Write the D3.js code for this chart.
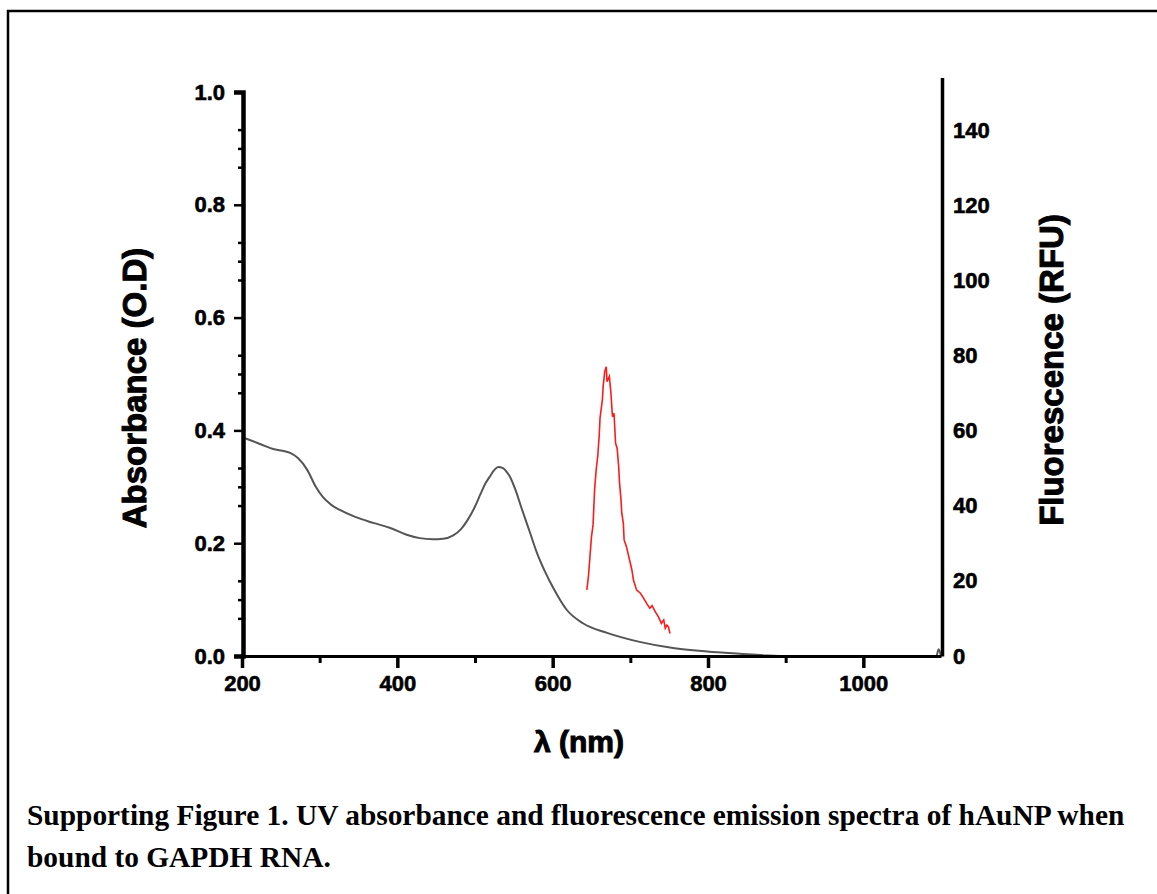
<!DOCTYPE html>
<html><head><meta charset="utf-8">
<script src="https://cdn.jsdelivr.net/npm/d3@7"></script>
<style>body{margin:0;background:#fff}svg{display:block}</style>
</head><body>
<svg id="c" width="1157" height="894"></svg>
<script>
// ---- data ----
const absWavelength = [200,210,225,240,255,262,272,284,295,304,315,326,345,369,391,412,429,445,459,472,482,490,500,507,513,519,525,530,536,541,545,552,560,570,580,590,601,618,639,670,712,755,799,841,876,900,950,1000,1050,1094,1097,1100];
const absValue = [0.388,0.383,0.375,0.367,0.363,0.360,0.351,0.330,0.300,0.282,0.268,0.259,0.247,0.236,0.227,0.215,0.209,0.207,0.208,0.214,0.225,0.240,0.265,0.287,0.305,0.318,0.330,0.335,0.333,0.326,0.318,0.295,0.262,0.222,0.182,0.150,0.120,0.082,0.058,0.041,0.025,0.014,0.008,0.004,0.001,0,0,0,0,0,0.012,0];
const flWavelength = [644,646,650,652,654,656,658,660,661,664,665,667,669,670,673,675,677,679,681,683,685,686,688,689,691,692,695,697,700,702,704,708,713,717,721,725,728,732,736,740,743,745,747,749,751];
const flValue = [17.6,21.1,31.8,34.9,44.3,49.5,53.1,58.9,63.4,68.2,71.7,75.7,77.0,73.0,74.4,70.0,63.7,64.6,56.6,55.3,50.4,46.4,41.5,38.0,35.3,30.9,29.1,27.3,24.7,22.9,20.2,17.6,16.7,15.4,14.0,12.7,13.4,11.8,10.5,8.7,9.6,7.4,8.2,7.8,6.0];
const xTicks = [200,400,600,800,1000];
const xMinorTicks = [300,500,700,900];
const yLeftTicks = [0,0.2,0.4,0.6,0.8,1.0];
const yLeftMinor = [0.0667,0.1,0.1333,0.2667,0.3,0.3333,0.4667,0.5,0.5333,0.6667,0.7,0.7333,0.8667,0.9,0.9333];
const yRightTicks = [0,20,40,60,80,100,120,140];
const caption = ["Supporting Figure 1. UV absorbance and fluorescence emission spectra of hAuNP when","bound to GAPDH RNA."];

// ---- scales ----
const svg = d3.select('#c');
const x = d3.scaleLinear().domain([200,1100]).range([242,941]);
const yL = d3.scaleLinear().domain([0,1]).range([656,92]);
const yR = d3.scaleLinear().domain([0,154]).range([656,656-154*3.757]);

// border
svg.append('path').attr('d','M8,900 L8,11 L1160,11').attr('fill','none').attr('stroke','#000').attr('stroke-width',2.5);

const tickFont = 'bold 22px "Liberation Sans", Arial, sans-serif';

// curves
const absData = absWavelength.map((w,i)=>[w,absValue[i]]);
const flData = flWavelength.map((w,i)=>[w,flValue[i]]);
svg.append('path').datum(absData)
  .attr('d', d3.line().x(d=>x(d[0])).y(d=>yL(d[1])).curve(d3.curveMonotoneX))
  .attr('fill','none').attr('stroke','#555').attr('stroke-width',2);
svg.append('path').datum(flData)
  .attr('d', d3.line().x(d=>x(d[0])).y(d=>yR(d[1])))
  .attr('fill','none').attr('stroke','#ff1a1a').attr('stroke-width',1.6);

function heavy(sel, w){ sel.attr('fill','#000').attr('stroke','#000').attr('stroke-width',w).attr('paint-order','stroke'); }

// left axis
const gL = svg.append('g').attr('transform','translate(243,0)')
  .call(d3.axisLeft(yL).tickValues(yLeftTicks).tickFormat(d3.format('.1f')).tickSize(9).tickPadding(9));
gL.select('.domain').attr('stroke','#000').attr('stroke-width',4.5);
gL.selectAll('.tick line').attr('stroke-width',2.5);
gL.selectAll('.tick text').style('font',tickFont).call(heavy,0.6);
svg.append('g').attr('transform','translate(243,0)')
  .call(d3.axisLeft(yL).tickValues(yLeftMinor).tickFormat('').tickSize(5))
  .call(g=>{g.select('.domain').remove();g.selectAll('.tick line').attr('stroke-width',2.5);});

// bottom axis
const gB = svg.append('g').attr('transform','translate(0,656)')
  .call(d3.axisBottom(x).tickValues(xTicks).tickFormat(d3.format('d')).tickSize(12).tickPadding(7).tickSizeOuter(0));
gB.select('.domain').attr('stroke','#000').attr('stroke-width',3);
gB.selectAll('.tick line').attr('stroke-width',3.5);
gB.selectAll('.tick text').style('font',tickFont).call(heavy,0.6);
svg.append('g').attr('transform','translate(0,656)')
  .call(d3.axisBottom(x).tickValues(xMinorTicks).tickFormat('').tickSize(7))
  .call(g=>{g.select('.domain').remove();g.selectAll('.tick line').attr('stroke-width',3);});

// right axis
const gR = svg.append('g').attr('transform','translate(942,0)')
  .call(d3.axisRight(yR).tickValues(yRightTicks).tickSize(0).tickPadding(11).tickSizeOuter(0));
gR.select('.domain').attr('stroke','#000').attr('stroke-width',3.5);
gR.selectAll('.tick text').style('font',tickFont).call(heavy,0.6);

// axis titles
const titleFont = '"Liberation Sans", Arial, sans-serif';
svg.append('text').attr('transform','translate(146,388) rotate(-90)')
  .attr('text-anchor','middle').style('font-family',titleFont).style('font-weight','bold').style('font-size','33px')
  .call(heavy,1).text('Absorbance (O.D)');
svg.append('text').attr('transform','translate(1063,370) rotate(-90)')
  .attr('text-anchor','middle').style('font-family',titleFont).style('font-weight','bold').style('font-size','33px')
  .call(heavy,1).text('Fluorescence (RFU)');
svg.append('text').attr('x',579).attr('y',752)
  .attr('text-anchor','middle').style('font-family',titleFont).style('font-weight','bold').style('font-size','30px')
  .call(heavy,1).text('λ (nm)');

// caption
svg.append('g').selectAll('text').data(caption).join('text')
  .attr('x',27).attr('y',(d,i)=>825+i*42)
  .style('font-family','"Liberation Serif", "Times New Roman", serif').style('font-weight','bold').style('font-size','29.4px')
  .text(d=>d);
</script>
</body></html>
